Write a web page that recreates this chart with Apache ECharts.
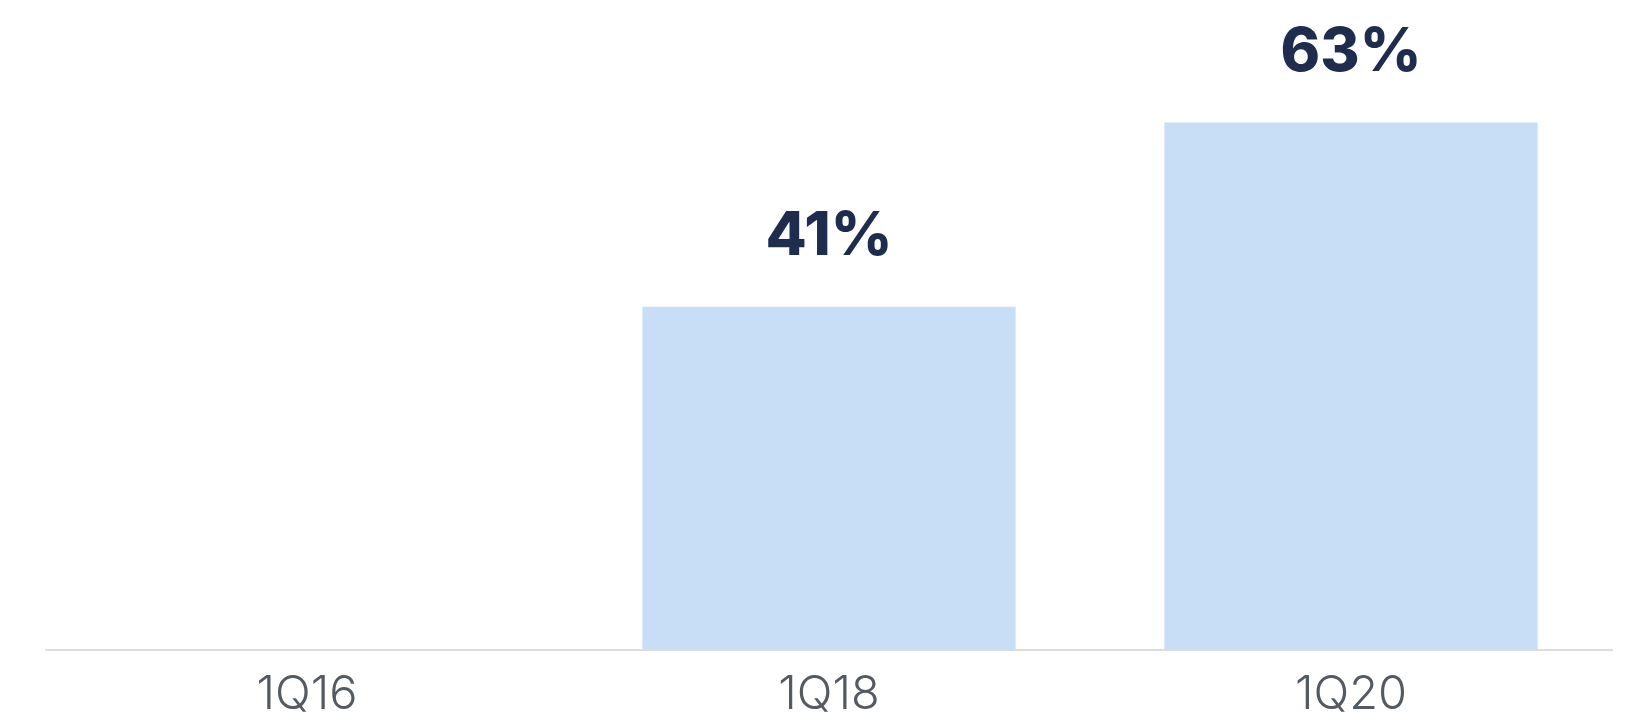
<!DOCTYPE html>
<html>
<head>
<meta charset="utf-8">
<script src="https://cdn.jsdelivr.net/npm/echarts@6/dist/echarts.min.js"></script>
<style>
  html, body { margin: 0; padding: 0; background: #ffffff; }
  #chart { width: 1630px; height: 714px; }
</style>
</head>
<body>
<div id="chart"></div>
<script>
// Quarterly share values (percent)
const categories = ['1Q16', '1Q18', '1Q20'];
const shareValues = [0, 41, 63];

const chart = echarts.init(document.getElementById('chart'), null, { renderer: 'canvas' });

chart.setOption({
  animation: false,
  backgroundColor: '#ffffff',
  grid: {
    left: 46, right: 18, top: 22, bottom: 64,
    containLabel: false,
    outerBoundsMode: 'none'
  },
  xAxis: {
    type: 'category',
    data: categories,
    axisLine: { show: true, lineStyle: { color: '#dcdcdc', width: 2 } },
    axisTick: { show: false },
    axisLabel: {
      color: '#545a61',
      fontFamily: 'Inter',
      fontWeight: 300,
      fontSize: 47,
      margin: 21
    }
  },
  yAxis: {
    type: 'value',
    min: 0,
    max: 75,
    show: false,
    splitLine: { show: false }
  },
  series: [{
    type: 'bar',
    data: shareValues,
    barWidth: '71.5%',
    itemStyle: { color: '#c8ddf6' },
    label: {
      show: true,
      position: 'top',
      distance: 40,
      color: '#1e2c4e',
      fontFamily: 'Inter',
      fontWeight: 800,
      fontSize: 60,
      formatter: p => (p.value ? p.value + '%' : '')
    }
  }]
});
</script>
</body>
</html>
